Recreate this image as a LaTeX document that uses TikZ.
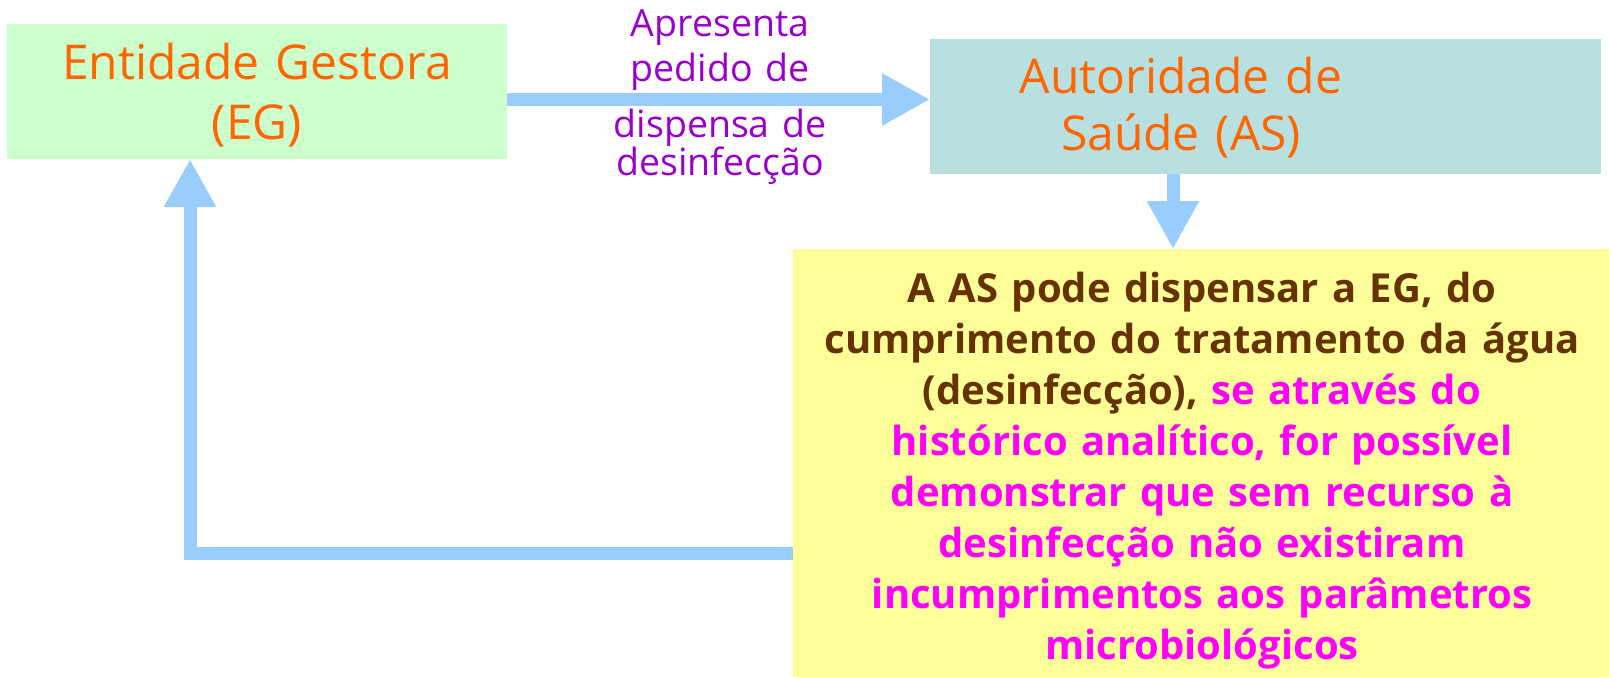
\documentclass[tikz,border=0pt]{standalone}
\usepackage{fontspec}
\setmainfont{Open Sans}
\usetikzlibrary{arrows.meta}
\definecolor{egfill}{HTML}{CCFFCC}
\definecolor{asfill}{HTML}{B9E0E1}
\definecolor{notefill}{HTML}{FFFF99}
\definecolor{arrowblue}{HTML}{99CCFF}
\definecolor{orangetxt}{HTML}{FF6600}
\definecolor{purpletxt}{HTML}{9900CC}
\definecolor{browntxt}{HTML}{663300}
\definecolor{magentatxt}{HTML}{FF00FF}
\begin{document}
\begin{tikzpicture}[x=1pt,y=-1pt,
  boxnode/.style={inner sep=0pt, outer sep=0pt, draw=none},
  txt/.style={align=center, text width=#1, inner sep=0pt, anchor=base},
  bigarrow/.style={draw=arrowblue, line width=13pt,
    -{Triangle[length=48pt,width=49pt]}},
  shaft/.style={draw=arrowblue, line width=13pt}]
\useasboundingbox (0,0) rectangle (1609,677);
% boxes
\node[boxnode, fill=egfill, minimum width=500pt, minimum height=135pt] (eg) at (257,91.5) {};
\node[boxnode, fill=asfill, minimum width=671pt, minimum height=135pt] (as) at (1265.5,106.5) {};
\node[boxnode, fill=notefill, minimum width=816pt, minimum height=428pt] (note) at (1201,463) {};
% texts
\node[txt=480pt, font=\fontsize{48}{60}\selectfont, text=orangetxt] (egtext) at (257,80) {Entidade Gestora\\(EG)};
\node[txt=600pt, font=\fontsize{48}{57.7}\selectfont, text=orangetxt] (astext) at (1181,93) {Autoridade de\\Saúde (AS)};
\node[txt=260pt, font=\fontsize{37.5}{45}\selectfont, text=purpletxt] (req1) at (720,37) {Apresenta\\pedido de};
\node[txt=260pt, font=\fontsize{37.5}{38}\selectfont, text=purpletxt] (req2) at (720,137) {dispensa de\\desinfecção};
\node[txt=800pt, font=\bfseries\fontsize{40}{51.1}\selectfont, text=browntxt] (notetext) at (1202,302)
  {A AS pode dispensar a EG, do\\
   cumprimento do tratamento da água\\
   (desinfecção), \color{magentatxt}se através do\\
   histórico analítico, for possível\\
   demonstrar que sem recurso à\\
   desinfecção não existiram\\
   incumprimentos aos parâmetros\\
   microbiológicos};
% helper coordinates
\coordinate (hy) at (0,99.5);
\coordinate (dx) at (1173,0);
\coordinate (lx) at (190,0);
\coordinate (by) at (0,553);
% connectors
\draw[bigarrow] (eg.east |- hy) -- (as.west |- hy);
\draw[bigarrow] (as.south -| dx) -- (note.north -| dx);
\draw[bigarrow] (note.west |- by) -- (lx |- by) -- (eg.south -| lx);
\end{tikzpicture}
\end{document}
